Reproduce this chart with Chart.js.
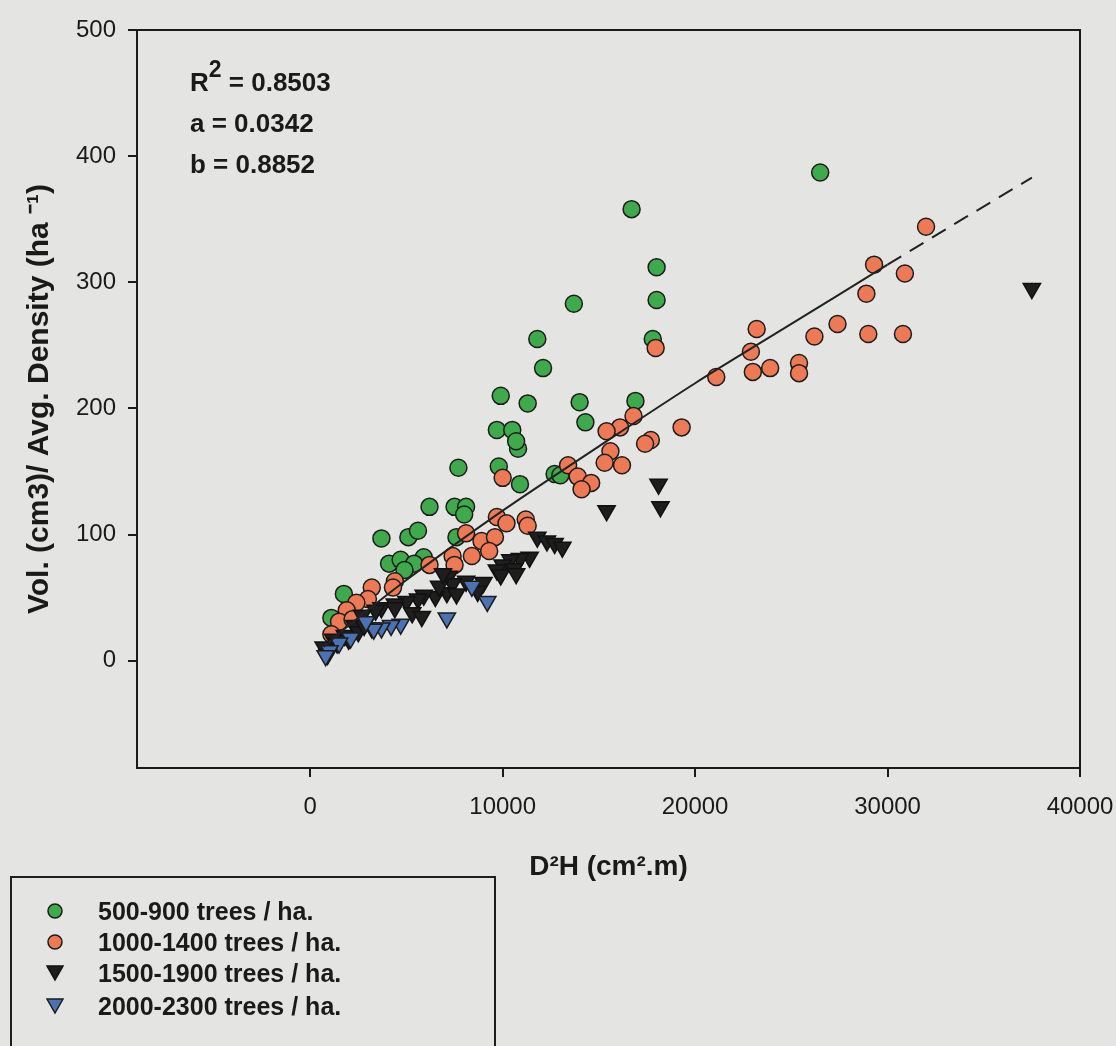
<!DOCTYPE html>
<html>
<head>
<meta charset="utf-8">
<script src="https://cdn.jsdelivr.net/npm/chart.js@4/dist/chart.umd.min.js"></script>
<style>
html, body { margin: 0; padding: 0; background: #e4e5e3; }
#wrap { position: relative; width: 1116px; height: 1046px; overflow: hidden; }
#chart { position: absolute; left: 0; top: 0; }
.stats { position: absolute; left: 190px; top: 62px; font: bold 26px "Liberation Sans", Arial, sans-serif; color: #1a1a1a; }
.stats div { height: 41px; line-height: 41px; white-space: nowrap; }
.stats sup { font-size: 23px; vertical-align: 14px; line-height: 0; }
.legend { position: absolute; left: 10px; top: 876px; width: 482px; height: 220px; border: 2px solid #1e1e1e; font: bold 25px "Liberation Sans", Arial, sans-serif; color: #1a1a1a; }
.row { position: absolute; left: 0; height: 30px; width: 470px; }
.row svg { position: absolute; left: 34px; top: 6px; }
.row span { position: absolute; left: 86px; top: 0; line-height: 30px; white-space: nowrap; }
</style>
</head>
<body>
<div id="wrap">
  <canvas id="chart" width="1116" height="1046"></canvas>
  <div class="stats">
    <div>R<sup>2</sup> = 0.8503</div>
    <div>a = 0.0342</div>
    <div>b = 0.8852</div>
  </div>
  <div class="legend">
    <div class="row" style="top:18px"><svg width="18" height="18"><circle cx="9" cy="9" r="7" fill="#3eaa4c" stroke="#1c1c1c" stroke-width="1.5"/></svg><span>500-900 trees / ha.</span></div>
    <div class="row" style="top:49px"><svg width="18" height="18"><circle cx="9" cy="9" r="7" fill="#ee7a55" stroke="#1c1c1c" stroke-width="1.5"/></svg><span>1000-1400 trees / ha.</span></div>
    <div class="row" style="top:80px"><svg width="18" height="18"><polygon points="1,2 17,2 9,16" fill="#1e1e1e" stroke="#111" stroke-width="1.5"/></svg><span>1500-1900 trees / ha.</span></div>
    <div class="row" style="top:113px"><svg width="18" height="18"><polygon points="1,2 17,2 9,16" fill="#4b72b5" stroke="#1c1c1c" stroke-width="1.5"/></svg><span>2000-2300 trees / ha.</span></div>
  </div>
</div>
<script>
// tick labels
var xTicks = [0, 10000, 20000, 30000, 40000];
var yTicks = [0, 100, 200, 300, 400, 500];

// 500-900 trees / ha
var greenX = [26500, 16700, 18000, 18000, 13700, 17800, 11800, 12100, 9900, 11300, 14000, 14300, 16900, 9700, 10500, 10800, 10700, 9800, 10900, 12700, 13000, 7700, 6200, 7500, 8100, 8000, 7600, 5900, 3700, 5100, 5600, 4100, 4700, 5400, 4900, 1750, 1100];
var greenY = [387, 358, 312, 286, 283, 255, 255, 232, 210, 204, 205, 189, 206, 183, 183, 168, 174, 154, 140, 148, 147, 153, 122, 122, 122, 116, 98, 82, 97, 98, 103, 77, 80, 77, 72, 53, 34];

// 1000-1400 trees / ha
var orangeX = [32000, 29300, 30900, 28900, 23200, 22900, 23000, 23900, 25400, 25400, 26200, 27400, 29000, 30800, 21100, 17950, 16800, 16100, 15400, 19300, 17700, 17400, 15600, 15300, 16200, 13400, 13900, 14600, 14100, 10000, 11200, 11300, 9700, 10200, 8100, 8900, 9600, 9300, 8400, 7400, 7500, 6200, 4400, 4300, 3200, 3000, 2400, 1900, 1500, 1100, 2200];
var orangeY = [344, 314, 307, 291, 263, 245, 229, 232, 236, 228, 257, 267, 259, 259, 225, 248, 194, 185, 182, 185, 175, 172, 166, 157, 155, 155, 146, 141, 136, 145, 112, 107, 114, 109, 101, 95, 98, 87, 83, 83, 76, 76, 63, 58, 58, 49, 46, 40, 31, 21, 33];

// 1500-1900 trees / ha
var blackX = [37500, 18100, 18200, 15400, 11800, 12300, 12700, 13100, 11400, 10900, 10400, 10000, 10600, 9700, 9900, 10700, 9000, 8100, 7200, 8700, 7400, 7100, 7600, 6500, 5900, 5600, 5000, 4400, 3700, 3400, 5300, 5800, 2700, 2300, 1800, 1200, 700, 900, 6700, 6900, 1400, 2000, 2500, 2800, 3200, 4400];
var blackY = [295, 140, 122, 119, 98, 95, 93, 90, 82, 81, 80, 76, 73, 72, 68, 69, 62, 63, 67, 55, 61, 54, 53, 51, 52, 49, 47, 45, 42, 40, 38, 35, 36, 28, 20, 17, 11, 5, 59, 69, 14, 17, 23, 28, 26, 42];

// 2000-2300 trees / ha
var blueX = [8400, 9200, 7100, 4700, 4200, 3700, 3300, 2900, 2100, 1500, 1000, 800];
var blueY = [59, 47, 34, 29, 28, 26, 25, 31, 18, 14, 8, 4];

// fitted curve (solid part, then dashed extension)
var fitX = [700, 2000, 5000, 10000, 15000, 20000, 25000, 30000];
var fitY = [11, 28, 64, 119, 170, 220, 267, 314];
var dashX = [30000, 34000, 37500];
var dashY = [314, 351, 383];

function pts(xs, ys) {
  return xs.map(function (x, i) { return { x: x, y: ys[i] }; });
}

Chart.defaults.font.family = '"Liberation Sans", Arial, sans-serif';
Chart.defaults.color = '#1a1a1a';

var framePlugin = {
  id: 'frame',
  afterDatasetsDraw: function (chart) {
    var a = chart.chartArea, ctx = chart.ctx;
    ctx.save();
    ctx.strokeStyle = '#1a1a1a';
    ctx.lineWidth = 2;
    ctx.strokeRect(a.left, a.top, a.right - a.left, a.bottom - a.top);
    ctx.restore();
  }
};

function plain(v) { return String(v); }

new Chart(document.getElementById('chart'), {
  type: 'scatter',
  data: {
    datasets: [
      { label: 'fit', type: 'line', data: pts(fitX, fitY), borderColor: '#222', borderWidth: 2,
        pointRadius: 0, fill: false, tension: 0.3, order: 0 },
      { label: 'fit ext', type: 'line', data: pts(dashX, dashY), borderColor: '#222', borderWidth: 2,
        borderDash: [16, 10], pointRadius: 0, fill: false, order: 0 },
      { label: '500-900 trees / ha.', data: pts(greenX, greenY), pointStyle: 'circle', pointRadius: 8.5,
        backgroundColor: '#3eaa4c', borderColor: '#1c1c1c', borderWidth: 1.5, order: 4 },
      { label: '1000-1400 trees / ha.', data: pts(orangeX, orangeY), pointStyle: 'circle', pointRadius: 8.5,
        backgroundColor: '#ee7a55', borderColor: '#1c1c1c', borderWidth: 1.5, order: 3 },
      { label: '1500-1900 trees / ha.', data: pts(blackX, blackY), pointStyle: 'triangle', rotation: 180,
        pointRadius: 10, backgroundColor: '#1e1e1e', borderColor: '#111', borderWidth: 1.5, order: 2 },
      { label: '2000-2300 trees / ha.', data: pts(blueX, blueY), pointStyle: 'triangle', rotation: 180,
        pointRadius: 10, backgroundColor: '#4b72b5', borderColor: '#1c1c1c', borderWidth: 1.5, order: 1 }
    ]
  },
  options: {
    responsive: false,
    animation: false,
    events: [],
    layout: { padding: { top: 30, right: 36, left: 0, bottom: 148 } },
    plugins: { legend: { display: false }, tooltip: { enabled: false } },
    scales: {
      x: {
        type: 'linear', min: -9000, max: 40000,
        afterBuildTicks: function (s) { s.ticks = xTicks.map(function (v) { return { value: v }; }); },
        afterFit: function (s) { s.height = 130; s.paddingRight = 0; s.paddingLeft = 0; },
        grid: { display: true, drawOnChartArea: false, drawTicks: true, tickLength: 9, color: '#1a1a1a', lineWidth: 2 },
        border: { display: true, color: '#1a1a1a', width: 2 },
        ticks: { font: { size: 24 }, padding: 16, maxRotation: 0, autoSkip: false, callback: plain },
        title: { display: true, text: 'D²H (cm².m)', font: { size: 28, weight: 'bold' }, padding: { top: 0, bottom: 14 } }
      },
      y: {
        type: 'linear', min: -85, max: 500,
        afterBuildTicks: function (s) { s.ticks = yTicks.map(function (v) { return { value: v }; }); },
        afterFit: function (s) { s.width = 137; s.paddingTop = 0; s.paddingBottom = 0; },
        grid: { display: true, drawOnChartArea: false, drawTicks: true, tickLength: 9, color: '#1a1a1a', lineWidth: 2 },
        border: { display: true, color: '#1a1a1a', width: 2 },
        ticks: { font: { size: 24 }, padding: 12, autoSkip: false, callback: plain },
        title: { display: true, text: 'Vol. (cm3)/ Avg. Density (ha ⁻¹)', font: { size: 30, weight: 'bold' }, padding: { top: 22, bottom: 0 } }
      }
    }
  },
  plugins: [framePlugin]
});
</script>
</body>
</html>
